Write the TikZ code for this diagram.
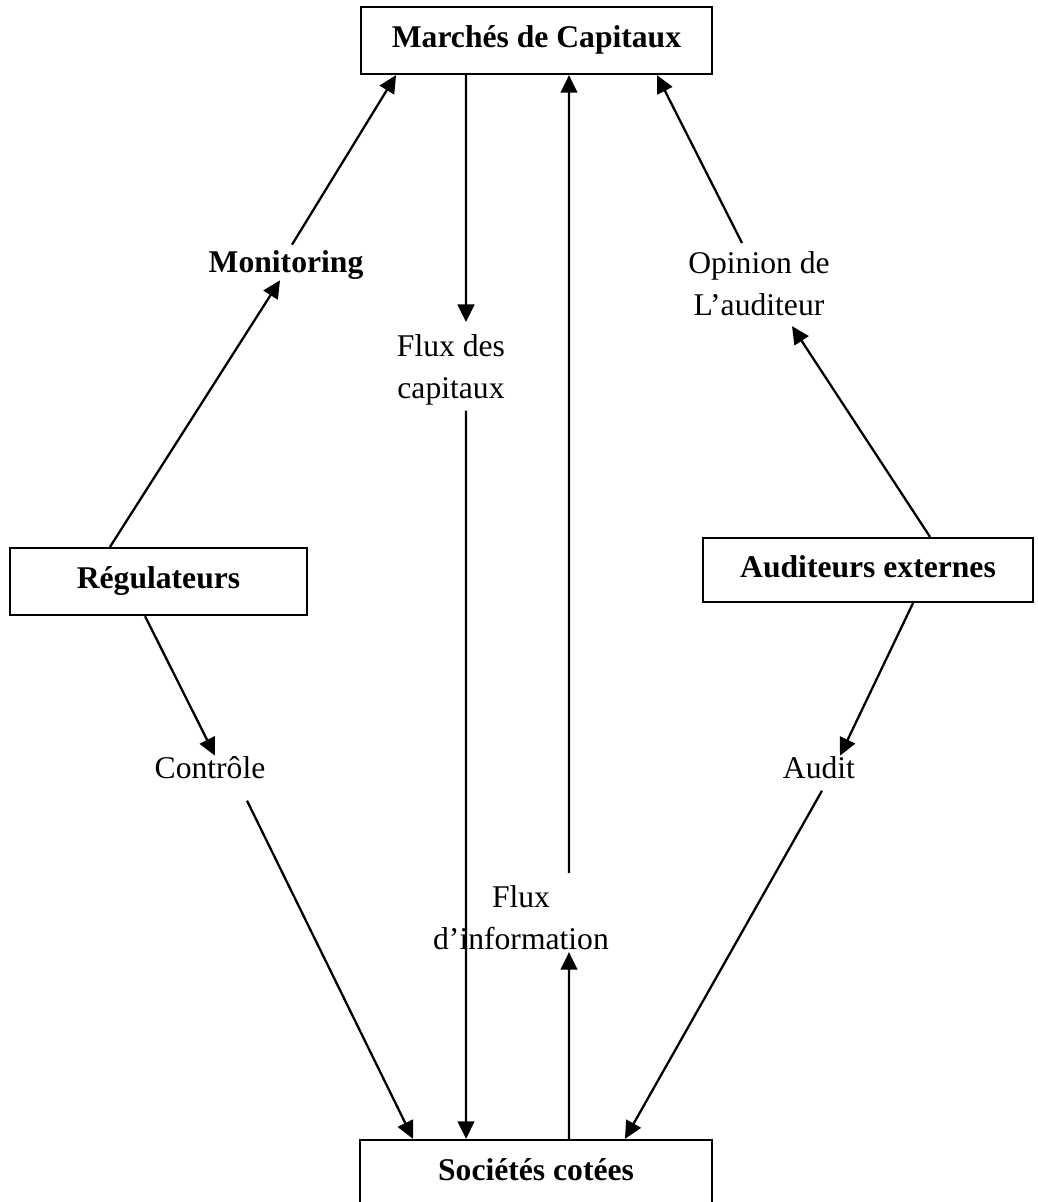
\documentclass[tikz,border=0pt]{standalone}
\usepackage{fontspec}
\setmainfont{Liberation Serif}
\usetikzlibrary{arrows.meta}

\begin{document}
\begin{tikzpicture}[x=0.02cm,y=-0.02cm,
    every node/.style={font=\fontsize{18}{24}\selectfont, inner sep=0pt},
    boite/.style={draw, line width=1.3pt, minimum height=1.34cm,
      font=\fontsize{18}{24}\selectfont\bfseries, text height=12.5pt, text depth=4pt},
    etiq/.style={align=center, anchor=north},
    fleche/.style={line width=1.3pt, -{Triangle[length=10pt,width=9.5pt]}}]
  \clip (0,0) rectangle (1037,1202);

  % boites
  \node[boite, minimum width=7.02cm] (marches) at (536.5,40.5) {Marchés de Capitaux};
  \node[boite, minimum width=5.94cm] (reg) at (158.5,581.5) {Régulateurs};
  \node[boite, minimum width=6.6cm, minimum height=1.28cm] (aud) at (868,570) {Auditeurs externes};
  \node[boite, minimum width=7.04cm] (soc) at (536,1173.5) {Sociétés cotées};

  % etiquettes
  \node[anchor=base, font=\fontsize{18}{24}\selectfont\bfseries] (monit) at (286,273) {Monitoring};
  \node[etiq] (capit) at (451,334) {Flux des\\capitaux};
  \node[etiq] (info) at (521,885) {Flux\\d’information};
  \node[etiq] (opin) at (759,251) {Opinion de\\L’auditeur};
  \node[anchor=base] (contr) at (210,778) {Contrôle};
  \node[anchor=base] (audit) at (819,778) {Audit};

  % fleches
  \draw[fleche] ([xshift=-0.97cm]reg.north) -- ([xshift=-0.12cm]monit.south);
  \draw[fleche] ([xshift=0.12cm,yshift=0.12cm]monit.north) -- ([xshift=-2.81cm]marches.south);

  \draw[fleche] ([xshift=-1.41cm]marches.south) -- ([xshift=0.3cm,yshift=0.24cm]capit.north);
  \draw[fleche] ([xshift=0.3cm,yshift=-0.1cm]capit.south) -- ([xshift=-1.4cm]soc.north);

  \draw[fleche] ([xshift=0.66cm]soc.north) -- ([xshift=0.96cm,yshift=-0.04cm]info.south);
  \draw[fleche] ([xshift=0.96cm,yshift=0.24cm]info.north) -- ([xshift=0.65cm]marches.south);

  \draw[fleche] ([xshift=1.24cm]aud.north) -- ([xshift=0.66cm,yshift=-0.2cm]opin.south);
  \draw[fleche] ([xshift=-0.34cm,yshift=0.16cm]opin.north) -- ([xshift=2.41cm]marches.south);

  \draw[fleche] ([xshift=-0.27cm]reg.south) -- ([xshift=0.1cm]contr.north);
  \draw[fleche] ([xshift=0.74cm,yshift=-0.44cm]contr.south) -- ([xshift=-2.46cm]soc.north);

  \draw[fleche] ([xshift=0.9cm]aud.south) -- ([xshift=0.42cm]audit.north);
  \draw[fleche] ([xshift=0.06cm,yshift=-0.24cm]audit.south) -- ([xshift=1.78cm]soc.north);
\end{tikzpicture}
\end{document}
